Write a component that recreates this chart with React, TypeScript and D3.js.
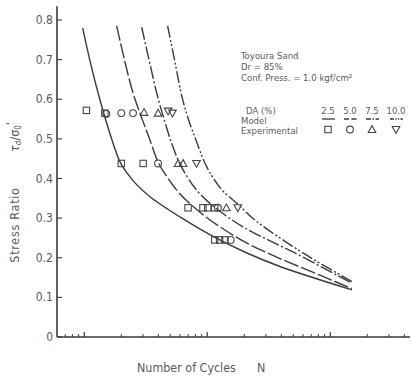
import React, { useEffect, useRef } from 'react';
import * as d3 from 'd3';

// model curves (number of cycles vs stress ratio), one pair of arrays per DA
const cyclesDA25 = [0.97, 1.134, 1.342, 1.68, 1.951, 2.225, 2.584, 3.42, 6.0, 11.13, 21.0, 39.0, 150];
const ratioDA25 = [0.78, 0.686, 0.598, 0.497, 0.442, 0.414, 0.389, 0.354, 0.303, 0.254, 0.212, 0.178, 0.119];
const cyclesDA50 = [1.834, 2.142, 2.489, 2.891, 3.42, 3.974, 4.703, 6.0, 8.72, 12.69, 21.0, 39.0, 82.5, 150];
const ratioDA50 = [0.785, 0.694, 0.616, 0.558, 0.497, 0.442, 0.404, 0.361, 0.315, 0.278, 0.237, 0.198, 0.156, 0.122];
const cyclesDA75 = [2.929, 3.42, 3.974, 4.53, 5.16, 5.89, 6.97, 8.72, 12.22, 20.26, 51.6, 150];
const ratioDA75 = [0.782, 0.689, 0.603, 0.542, 0.487, 0.442, 0.401, 0.361, 0.321, 0.275, 0.212, 0.136];
const cyclesDA100 = [4.76, 5.46, 6.23, 7.1, 8.25, 9.4, 10.92, 13.17, 17.77, 24.42, 62.3, 150];
const ratioDA100 = [0.785, 0.694, 0.606, 0.545, 0.49, 0.444, 0.406, 0.371, 0.335, 0.295, 0.209, 0.14];

// experimental points
const expN25 = [1.04, 1.47, 2.0, 3.01, 6.98, 9.22, 10.1, 11.5, 11.5, 12.6, 13.9];
const expR25 = [0.572, 0.565, 0.438, 0.438, 0.326, 0.326, 0.326, 0.326, 0.245, 0.245, 0.245];
const expN50 = [1.51, 2.0, 2.49, 3.98, 12.2, 15.5];
const expR50 = [0.563, 0.565, 0.565, 0.438, 0.326, 0.245];
const expN75 = [3.06, 3.98, 5.79, 6.36, 14.3];
const expR75 = [0.567, 0.565, 0.438, 0.438, 0.326];
const expN100 = [4.8, 5.21, 8.17, 17.7];
const expR100 = [0.57, 0.565, 0.438, 0.326];

const yTicks = [0, 0.1, 0.2, 0.3, 0.4, 0.5, 0.6, 0.7, 0.8];
const yTickLabels = ['0', '0.1', '0.2', '0.3', '0.4', '0.5', '0.6', '0.7', '0.8'];
const xMajorTicks = [1, 10, 100];
const xMinorTicks = [0.7, 0.8, 0.9, 2, 3, 4, 5, 6, 7, 8, 9, 20, 30, 40, 50, 60, 70, 80, 90, 200, 300, 400];

const daLabels = ['2.5', '5.0', '7.5', '10.0'];
const infoLines = ['Toyoura Sand', 'Dr = 85%', 'Conf. Press. = 1.0 kgf/cm²'];

const ink = '#3a3a3a';
const textCol = '#5a5a5a';
const font = '"Liberation Sans Narrow", "DejaVu Sans Condensed", "Liberation Sans", sans-serif';

export default function App() {
    const ref = useRef<SVGSVGElement | null>(null);

    useEffect(() => {
        const svg = d3.select(ref.current);
        svg.selectAll('*').remove();
        const width = 413, height = 377;
        const x = d3.scaleLog().domain([0.6, 445]).range([57, 410]);
        const y = d3.scaleLinear().domain([0, 0.8]).range([337, 20]);

        svg.attr('viewBox', `0 0 ${width} ${height}`);
        svg.append('rect').attr('width', width).attr('height', height).attr('fill', '#fff');

        // axes
        svg.append('line').attr('x1', x(0.6)).attr('x2', x(445)).attr('y1', y(0)).attr('y2', y(0))
            .attr('stroke', ink).attr('stroke-width', 1.6);
        svg.append('line').attr('x1', x(0.6)).attr('x2', x(0.6)).attr('y1', y(0)).attr('y2', y(0.835))
            .attr('stroke', ink).attr('stroke-width', 1.6);

        svg.append('g').selectAll('line').data(xMajorTicks).join('line')
            .attr('x1', d => x(d)).attr('x2', d => x(d))
            .attr('y1', y(0)).attr('y2', y(0) - 5)
            .attr('stroke', ink).attr('stroke-width', 1.2);
        svg.append('g').selectAll('line').data(xMinorTicks).join('line')
            .attr('x1', d => x(d)).attr('x2', d => x(d))
            .attr('y1', y(0)).attr('y2', y(0) - 3)
            .attr('stroke', ink).attr('stroke-width', 1);

        const yt = svg.append('g').selectAll('g').data(yTicks).join('g');
        yt.append('line')
            .attr('x1', x(0.6)).attr('x2', x(0.6) + 5)
            .attr('y1', d => y(d)).attr('y2', d => y(d))
            .attr('stroke', ink).attr('stroke-width', 1.1);
        yt.append('text')
            .attr('x', 53).attr('y', d => y(d) + 4)
            .attr('text-anchor', 'end')
            .attr('font-size', 12).attr('font-family', font).attr('fill', textCol)
            .text((d, i) => yTickLabels[i]);

        // axis titles
        svg.append('text')
            .attr('transform', 'translate(19,225) rotate(-90)')
            .attr('text-anchor', 'middle')
            .attr('font-size', 12.5).attr('letter-spacing', 0.7)
            .attr('font-family', font).attr('fill', textCol)
            .text('Stress Ratio');
        svg.append('text')
            .attr('transform', 'translate(19,137) rotate(-90)')
            .attr('text-anchor', 'middle')
            .attr('font-size', 12.5).attr('font-family', font).attr('fill', textCol)
            .call(t => {
                t.append('tspan').attr('font-style', 'italic').text('τ');
                t.append('tspan').attr('font-size', 8).attr('dy', 2).attr('font-style', 'italic').text('d');
                t.append('tspan').attr('dy', -2).text('/σ');
                t.append('tspan').attr('font-size', 8).attr('dy', 2).text('0');
                t.append('tspan').attr('dy', -6).text("'");
            });
        svg.append('text')
            .attr('x', 137).attr('y', 372)
            .attr('font-size', 12.4).attr('font-family', font).attr('fill', textCol)
            .text('Number of Cycles');
        svg.append('text')
            .attr('x', 257).attr('y', 372)
            .attr('font-size', 12.4).attr('font-family', font).attr('fill', textCol)
            .text('N');

        // model curves
        const curves = [
            { n: cyclesDA25, r: ratioDA25, dash: null },
            { n: cyclesDA50, r: ratioDA50, dash: '15,3' },
            { n: cyclesDA75, r: ratioDA75, dash: '13,2.5,2,2.5' },
            { n: cyclesDA100, r: ratioDA100, dash: '12,2.5,2,2,2,2.5' },
        ];
        const line = d3.line<[number, number]>()
            .x(d => x(d[0]))
            .y(d => y(d[1]))
            .curve(d3.curveCatmullRom.alpha(0.5));
        curves.forEach(c => {
            const pts = c.n.map((v, i) => [v, c.r[i]] as [number, number]);
            svg.append('path')
                .attr('d', line(pts) as string)
                .attr('fill', 'none')
                .attr('stroke', ink)
                .attr('stroke-width', 1.4)
                .attr('stroke-dasharray', c.dash);
        });

        // markers
        const drawMarker = (g: any, kind: number, cx: number, cy: number) => {
            const s = 3.2;
            if (kind === 0) {
                g.append('rect').attr('x', cx - s).attr('y', cy - s).attr('width', 2 * s).attr('height', 2 * s);
            } else if (kind === 1) {
                g.append('circle').attr('cx', cx).attr('cy', cy).attr('r', 3.4);
            } else if (kind === 2) {
                g.append('path').attr('d', `M${cx},${cy - 3.8}L${cx + 3.8},${cy + 3}L${cx - 3.8},${cy + 3}Z`);
            } else {
                g.append('path').attr('d', `M${cx},${cy + 3.8}L${cx + 3.8},${cy - 3}L${cx - 3.8},${cy - 3}Z`);
            }
        };
        const mg = svg.append('g').attr('fill', 'none').attr('stroke', '#444').attr('stroke-width', 1.1);
        const exps = [[expN25, expR25], [expN50, expR50], [expN75, expR75], [expN100, expR100]];
        exps.forEach(([ns, rs], k) => {
            ns.forEach((v, i) => drawMarker(mg, k, x(v), y(rs[i])));
        });

        // legend block
        const lg = svg.append('g').attr('font-family', font).attr('font-size', 9.5).attr('fill', textCol);
        infoLines.forEach((t, i) => {
            lg.append('text').attr('x', 241).attr('y', 59 + i * 11).text(t);
        });
        lg.append('text').attr('x', 246).attr('y', 114).text('DA  (%)');
        lg.append('text').attr('x', 241).attr('y', 124).text('Model');
        lg.append('text').attr('x', 241).attr('y', 134).text('Experimental');
        const colX = [328, 350, 372, 396];
        const sampleDash = [null, '5,2.5', '5,1.5,1.5,1.5', '4,1.3,1.3,1.3,1.3,1.3'];
        daLabels.forEach((t, i) => {
            lg.append('text').attr('x', colX[i]).attr('y', 114).attr('text-anchor', 'middle').text(t);
            svg.append('line')
                .attr('x1', colX[i] - 6).attr('x2', colX[i] + 7)
                .attr('y1', 119).attr('y2', 119)
                .attr('stroke', ink).attr('stroke-width', 1.3)
                .attr('stroke-dasharray', sampleDash[i]);
            drawMarker(mg, i, colX[i], 129.5);
        });
    }, []);

    return <svg ref={ref} width={413} height={377} style={{ position: 'absolute', left: 0, top: 0, display: 'block' }} />;
}
